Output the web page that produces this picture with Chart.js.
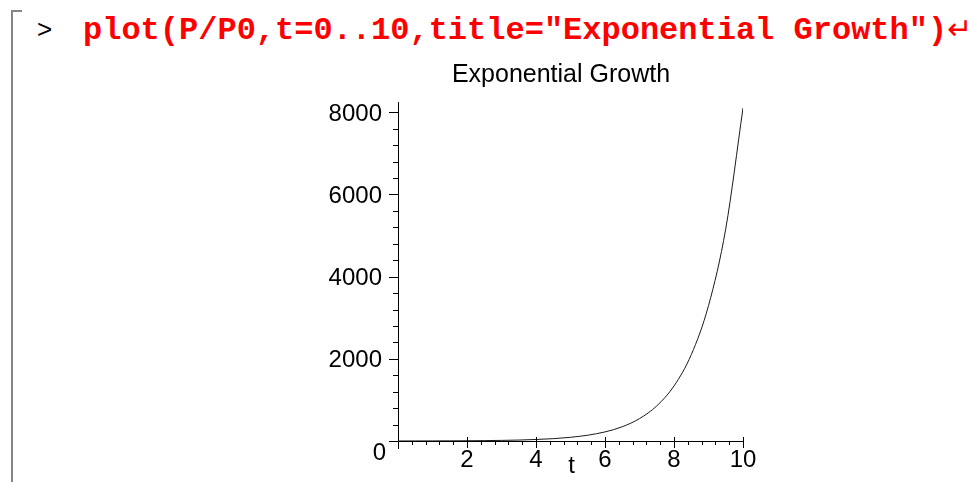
<!DOCTYPE html>
<html><head><meta charset="utf-8">
<script src="https://cdn.jsdelivr.net/npm/chart.js@4.4.0/dist/chart.umd.min.js"></script>
<style>
html,body{margin:0;padding:0;background:#fff;width:972px;height:482px;overflow:hidden;}
#bracket{position:absolute;left:11px;top:10px;width:9px;height:480px;border-left:2px solid #858585;border-top:2px solid #858585;}
#prompt{position:absolute;left:37px;top:14px;font:26px "Liberation Sans",Arial,sans-serif;color:#000;}
#cmd{position:absolute;left:83px;top:11px;font:bold 32px "Liberation Mono","Courier New",monospace;color:#f00;white-space:pre;}
#cmd span{font-family:"DejaVu Sans",sans-serif;font-weight:normal;font-size:30px;}
canvas{position:absolute;left:0;top:0;}
</style></head>
<body>
<div id="bracket"></div>
<div id="prompt">&gt;</div>
<div id="cmd">plot(P/P0,t=0..10,title="Exponential Growth")<span>↵</span></div>
<canvas id="c" width="972" height="482"></canvas>
<script>
const tValues = [0,0.5,1,1.5,2,2.5,3,3.5,4,4.5,5,5.5,6,6.5,7,7.5,8,8.5,9,9.5,10];
const growthValues = [1,1.6,2.5,3.9,6,9.5,15,23,37,57,90,141,221,347,545,854,1339,2100,3294,5166,8103];
const xMajorTicks = [2,4,6,8,10];
const yMajorTicks = [2000,4000,6000,8000];
const xMinorStep = 0.4;
const yMinorStep = 400;
const originLabel = '0';
const xAxisLabel = 't';
const chartTitle = 'Exponential Growth';
const FONT = '"Liberation Sans", Arial, sans-serif';

const isMajor = (arr, v) => arr.some(m => Math.abs(m - v) < 1e-6);

function stepTicks(min, max, step) {
  const out = [];
  const n = Math.floor((max - min) / step + 1e-9);
  for (let i = 0; i <= n; i++) out.push({ value: +(min + i * step).toFixed(6) });
  return out;
}

const axesPlugin = {
  id: 'mapleAxes',
  afterDraw(chart) {
    const ctx = chart.ctx;
    const xs = chart.scales.x, ys = chart.scales.y;
    const x0 = xs.getPixelForValue(0), y0 = ys.getPixelForValue(0);
    const area = chart.chartArea;
    ctx.save();
    ctx.strokeStyle = '#000';
    ctx.lineWidth = 1;
    ctx.beginPath();
    ctx.moveTo(x0 - 9, y0 + 0.5); ctx.lineTo(xs.getPixelForValue(10), y0 + 0.5);
    ctx.moveTo(x0 + 0.5, area.top); ctx.lineTo(x0 + 0.5, y0 + 8);
    xs.ticks.forEach(t => {
      if (t.value === 0) return;
      const px = Math.round(xs.getPixelForValue(t.value)) + 0.5;
      if (isMajor(xMajorTicks, t.value)) { ctx.moveTo(px, y0 - 4); ctx.lineTo(px, y0 + 7); }
      else { ctx.moveTo(px, y0); ctx.lineTo(px, y0 + 4); }
    });
    ys.ticks.forEach(t => {
      if (t.value === 0) return;
      const py = Math.round(ys.getPixelForValue(t.value)) + 0.5;
      if (isMajor(yMajorTicks, t.value)) { ctx.moveTo(x0 - 9, py); ctx.lineTo(x0 + 1, py); }
      else { ctx.moveTo(x0 - 5, py); ctx.lineTo(x0, py); }
    });
    ctx.stroke();
    ctx.fillStyle = '#000';
    ctx.font = '24px ' + FONT;
    ctx.textAlign = 'right';
    ctx.textBaseline = 'alphabetic';
    ctx.fillText(originLabel, x0 - 12, y0 + 19);
    ctx.textAlign = 'center';
    ctx.fillText(xAxisLabel, (area.left + area.right) / 2 + 1, y0 + 32);
    ctx.font = '25px ' + FONT;
    ctx.fillText(chartTitle, 561, 82);
    ctx.restore();
  }
};

new Chart(document.getElementById('c'), {
  type: 'line',
  data: {
    datasets: [{
      data: tValues.map((t, i) => ({ x: t, y: growthValues[i] })),
      borderColor: '#1a1a1a',
      borderWidth: 1,
      pointRadius: 0,
      fill: false,
      cubicInterpolationMode: 'monotone'
    }]
  },
  options: {
    responsive: false,
    animation: false,
    layout: { padding: { left: 0, right: 229, top: 102, bottom: 0 } },
    plugins: {
      legend: { display: false },
      tooltip: { enabled: false },
      title: { display: false }
    },
    scales: {
      x: {
        type: 'linear', min: 0, max: 10,
        border: { display: false },
        grid: { display: false, drawTicks: false },
        afterFit: s => { s.height = 41; },
        afterBuildTicks: s => { s.ticks = stepTicks(0, 10, xMinorStep); },
        ticks: {
          autoSkip: false, maxRotation: 0, padding: 5,
          color: '#000', font: { family: FONT, size: 24 },
          callback: v => isMajor(xMajorTicks, v) ? String(Math.round(v)) : ''
        }
      },
      y: {
        type: 'linear', min: 0, max: 8250,
        border: { display: false },
        grid: { display: false, drawTicks: false },
        afterFit: s => { s.width = 398; },
        afterBuildTicks: s => { s.ticks = stepTicks(0, 8000, yMinorStep); },
        ticks: {
          autoSkip: false, padding: 16, labelOffset: 2,
          color: '#000', font: { family: FONT, size: 24 },
          callback: v => isMajor(yMajorTicks, v) ? String(Math.round(v)) : ''
        }
      }
    }
  },
  plugins: [axesPlugin]
});
</script>
</body></html>
